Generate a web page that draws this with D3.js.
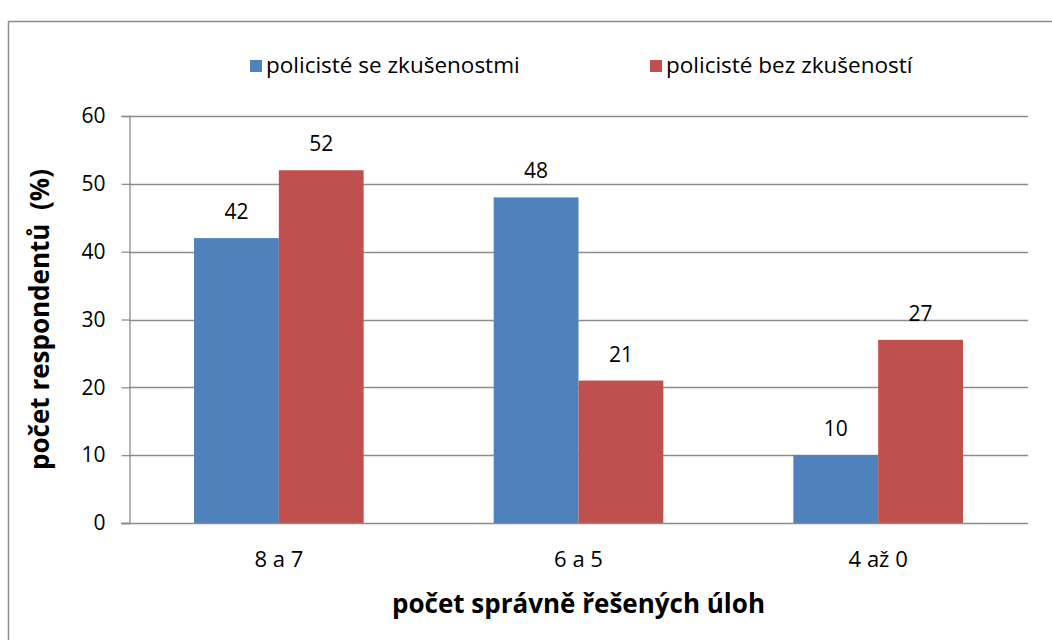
<!DOCTYPE html>
<html>
<head>
<meta charset="utf-8">
<script src="https://cdn.jsdelivr.net/npm/d3@7"></script>
<style>
  body { margin: 0; background: #fff; }
  svg text { font-family: "Open Sans", sans-serif; }
</style>
</head>
<body>
<svg id="chart" width="1052" height="640"></svg>
<script>
const categories = ["8 a 7", "6 a 5", "4 až 0"];
const seriesNames = ["policisté se zkušenostmi", "policisté bez zkušeností"];
const withExp = [42, 48, 10];
const withoutExp = [52, 21, 27];
const yTicks = [0, 10, 20, 30, 40, 50, 60];

const colors = ["#4f81bd", "#c0504d"];
const margin = {top: 116, right: 24, bottom: 117, left: 129};
const width = 1052, height = 640;

const svg = d3.select("#chart");

// outer frame
svg.append("rect")
  .attr("x", 8.5).attr("y", 21.5)
  .attr("width", 1100).attr("height", 700)
  .attr("fill", "none").attr("stroke", "#8c8c8c").attr("stroke-width", 1.5);

const x = d3.scaleBand()
  .domain(categories)
  .range([margin.left, width - margin.right])
  .paddingInner(0.434).paddingOuter(0.217);

const x1 = d3.scaleBand()
  .domain(d3.range(seriesNames.length))
  .range([0, x.bandwidth()]);

const y = d3.scaleLinear()
  .domain([0, 60])
  .range([height - margin.bottom, margin.top]);

// gridlines
svg.append("g")
  .selectAll("line")
  .data(yTicks.filter(d => d > 0))
  .join("line")
  .attr("x1", margin.left).attr("x2", width - margin.right)
  .attr("y1", d => Math.round(y(d)) + 0.5).attr("y2", d => Math.round(y(d)) + 0.5)
  .attr("stroke", "#8c8c8c").attr("stroke-width", 1.3);

const data = categories.map((c, i) => ({cat: c, vals: [withExp[i], withoutExp[i]]}));

const group = svg.append("g")
  .selectAll("g")
  .data(data)
  .join("g")
  .attr("transform", d => `translate(${x(d.cat)},0)`);

group.selectAll("rect")
  .data(d => d.vals.map((v, k) => ({v, k})))
  .join("rect")
  .attr("x", d => x1(d.k))
  .attr("y", d => y(d.v))
  .attr("width", x1.bandwidth())
  .attr("height", d => y(0) - y(d.v))
  .attr("fill", d => colors[d.k]);

group.selectAll("text")
  .data(d => d.vals.map((v, k) => ({v, k})))
  .join("text")
  .attr("x", d => x1(d.k) + x1.bandwidth() / 2)
  .attr("y", d => y(d.v) - 19)
  .attr("text-anchor", "middle")
  .style("font-size", "21px")
  .attr("fill", "#000")
  .text(d => d.v);

// y axis
const yAxis = d3.axisLeft(y).tickValues(yTicks).tickSize(8).tickPadding(16);
const yg = svg.append("g")
  .attr("transform", `translate(${margin.left + 0.5},0)`)
  .call(yAxis);
yg.select(".domain").attr("stroke", "#8c8c8c").attr("stroke-width", 1.3);
yg.selectAll(".tick line").attr("stroke", "#8c8c8c").attr("stroke-width", 1.3);
yg.selectAll(".tick text").style("font-size", "21px").attr("fill", "#000");

// x axis baseline
const xg = svg.append("g")
  .attr("transform", `translate(0,${Math.round(y(0)) + 0.5})`)
  .call(d3.axisBottom(x).tickSize(0).tickPadding(28));
xg.select(".domain").attr("d", `M${margin.left - 8},0H${width - margin.right}`)
  .attr("stroke", "#8c8c8c").attr("stroke-width", 1.3);
xg.selectAll(".tick text").style("font-size", "22px").attr("fill", "#000");

// axis titles
svg.append("text")
  .attr("x", (margin.left + width - margin.right) / 2)
  .attr("y", 613)
  .attr("text-anchor", "middle")
  .style("font-size", "26px").attr("font-weight", "bold")
  .text("počet správně řešených úloh");

svg.append("text")
  .attr("transform", `translate(49,${(margin.top + height - margin.bottom) / 2}) rotate(-90)`)
  .attr("text-anchor", "middle")
  .style("font-size", "26px").attr("font-weight", "bold")
  .style("white-space", "pre")
  .text("počet respondentů  (%)");

// legend
const legendX = [250, 650];
const legend = svg.append("g")
  .selectAll("g")
  .data(seriesNames)
  .join("g")
  .attr("transform", (d, i) => `translate(${legendX[i]},60)`);
legend.append("rect")
  .attr("width", 12).attr("height", 12)
  .attr("fill", (d, i) => colors[i]);
legend.append("text")
  .attr("x", 16).attr("y", 13)
  .style("font-size", "22.5px")
  .text(d => d);
</script>
</body>
</html>
